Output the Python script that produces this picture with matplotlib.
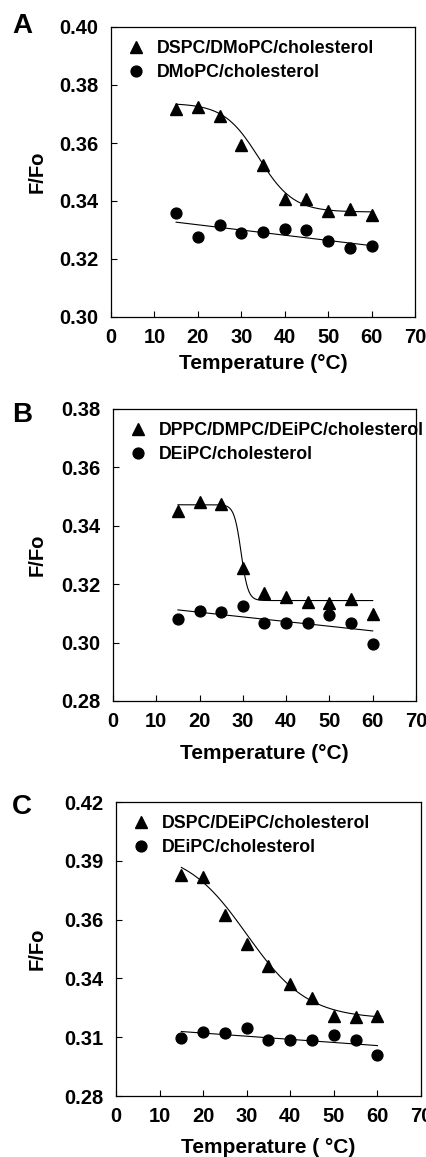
import numpy as np
import matplotlib
matplotlib.use("Agg")
import matplotlib.pyplot as plt
from matplotlib.ticker import FixedLocator, FormatStrFormatter

plt.rcParams['font.family'] = ['Liberation Sans', 'DejaVu Sans']
plt.rcParams['font.weight'] = 'bold'

temps = [15, 20, 25, 30, 35, 40, 45, 50, 55, 60]

# Panel A
a_tri_label = "DSPC/DMoPC/cholesterol"
a_cir_label = "DMoPC/cholesterol"
a_tri = [0.3717, 0.3725, 0.3693, 0.3593, 0.3523, 0.3406, 0.3408, 0.3367, 0.3371, 0.3351]
a_cir = [0.3359, 0.3277, 0.3317, 0.3288, 0.3293, 0.3305, 0.3299, 0.3261, 0.3237, 0.3246]
a_fit_sig = (0.3737, 0.3362, 34.0, 4.0)     # top, bottom, midpoint, slope
a_fit_lin = (0.3327, 0.3246)                # value at 15, value at 60
a_yticks = [0.30, 0.32, 0.34, 0.36, 0.38, 0.40]

# Panel B
b_tri_label = "DPPC/DMPC/DEiPC/cholesterol"
b_cir_label = "DEiPC/cholesterol"
b_tri = [0.3451, 0.3480, 0.3473, 0.3257, 0.3169, 0.3157, 0.3139, 0.3137, 0.3150, 0.3098]
b_cir = [0.3080, 0.3109, 0.3104, 0.3125, 0.3067, 0.3066, 0.3066, 0.3093, 0.3068, 0.2996]
b_fit_sig = (0.3472, 0.3144, 29.6, 0.8)
b_fit_lin = (0.3112, 0.3040)
b_yticks = [0.28, 0.30, 0.32, 0.34, 0.36, 0.38]

# Panel C
c_tri_label = "DSPC/DEiPC/cholesterol"
c_cir_label = "DEiPC/cholesterol"
c_tri = [0.3854, 0.3842, 0.3661, 0.3525, 0.3420, 0.3334, 0.3267, 0.3183, 0.3175, 0.3183]
c_cir = [0.3078, 0.3107, 0.3102, 0.3126, 0.3065, 0.3065, 0.3065, 0.3092, 0.3069, 0.2994]
c_fit_sig = (0.3973, 0.3167, 30.0, 7.0)
c_fit_lin = (0.3107, 0.3040)
c_yticks = list(np.linspace(0.28, 0.42, 6))

xticks = [0, 10, 20, 30, 40, 50, 60, 70]
xlabels = ["0", "10", "20", "30", "40", "50", "60", "70"]

W, H = 427, 1157
fig = plt.figure(figsize=(W / 100, H / 100), dpi=100)

def box(l, r, t, b):
    return [l / W, 1 - b / H, (r - l) / W, (b - t) / H]

panels = [
    ("A", (111, 415, 27, 317), a_tri, a_cir, a_fit_sig, a_fit_lin, a_yticks,
     a_tri_label, a_cir_label, "Temperature (°C)", 33, 5),
    ("B", (113, 416, 409, 701), b_tri, b_cir, b_fit_sig, b_fit_lin, b_yticks,
     b_tri_label, b_cir_label, "Temperature (°C)", 422, 9),
    ("C", (116, 421, 802, 1096), c_tri, c_cir, c_fit_sig, c_fit_lin, c_yticks,
     c_tri_label, c_cir_label, "Temperature ( °C)", 814, 8.5),
]

for letter, px, tri, cir, sig, lin, yt, tl, cl, xlab, ly, xlp in panels:
    ax = fig.add_axes(box(*px))
    xf = np.linspace(15, 60, 300)
    top, bot, x0, dx = sig
    ax.plot(xf, bot + (top - bot) / (1 + np.exp((xf - x0) / dx)), color='black', lw=0.8)
    ax.plot([15, 60], list(lin), color='black', lw=0.8)
    ax.plot(temps, tri, linestyle='none', marker='^', ms=8, color='black', label=tl)
    ax.plot(temps, cir, linestyle='none', marker='o', ms=7.8, color='black', label=cl)
    ax.set_xlim(0, 70)
    ax.set_ylim(yt[0], yt[-1])
    ax.yaxis.set_major_locator(FixedLocator(yt))
    ax.yaxis.set_major_formatter(FormatStrFormatter('%.2f'))
    ax.set_xticks(xticks)
    ax.set_xticklabels(xlabels)
    ax.tick_params(direction='in', length=4, width=0.8, labelsize=14.5)
    ax.tick_params(axis='y', pad=9)
    ax.tick_params(axis='x', pad=8)
    for s in ax.spines.values():
        s.set_linewidth(0.9)
    ax.set_xlabel(xlab, fontsize=15, fontweight='bold', labelpad=xlp)
    ax.set_ylabel("F/Fo", fontsize=14.5, fontweight='bold')
    ax.yaxis.set_label_coords((47 - px[0]) / (px[1] - px[0]), 0.5)
    ax.legend(loc='upper left', frameon=False, fontsize=12.8, handletextpad=0.5,
              handlelength=1.3, borderaxespad=0.0, labelspacing=0.38,
              borderpad=0.0, bbox_to_anchor=(0.045, 0.955))
    fig.text(12 / W, 1 - ly / H, letter, fontsize=20, fontweight='bold',
             ha='left', va='baseline')

fig.savefig("out.png", dpi=100)
